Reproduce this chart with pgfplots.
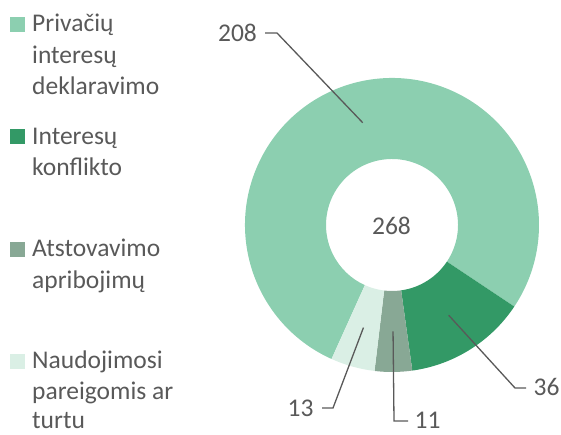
\documentclass[border=0pt]{standalone}
\usepackage{pgfplots}
\usepackage{pgfplotstable}
\pgfplotsset{compat=1.18}
\usepackage{fontspec}
\setmainfont{Carlito}
\definecolor{cA}{HTML}{8CCFB0}
\definecolor{cB}{HTML}{339966}
\definecolor{cC}{HTML}{88A895}
\definecolor{cD}{HTML}{DAEFE5}
\definecolor{txt}{HTML}{595959}

% value, colour, leader elbow (ex,ey), leader end (tx,ty), label position (lx,ly)
\pgfplotstableread{
value col ex ey tx ty lx ly
208 cA 277 -33 265 -33 237.5 -41.5
36 cB 515 -388 526 -388 546.5 -396
11 cC 394 -421 408 -421 427.5 -428.5
13 cD 333 -408 322 -408 300.5 -417
}\slices

\newcommand\legline[3]{\node[anchor=base west,inner sep=0pt,text=txt,font=\fontsize{25.5}{31}\selectfont] at (axis cs:#1,-#2) {#3};}
\newcommand\legkey[2]{\fill[#1] (axis cs:10,-#2) rectangle (axis cs:25,-#2+15);}

\begin{document}
\begin{tikzpicture}
\begin{axis}[x=1pt, y=1pt, xmin=0, xmax=561, ymin=-435, ymax=0,
  hide axis, clip=false, scale only axis]
\pgfplotsextra{%
  \path (axis cs:0,-435) rectangle (axis cs:561,0);
  % slices
  \def\angA{-114.3}%
  \pgfplotsforeachungrouped \i in {0,...,3}{%
    \pgfplotstablegetelem{\i}{value}\of\slices \let\val\pgfplotsretval
    \pgfplotstablegetelem{\i}{col}\of\slices \let\col\pgfplotsretval
    \pgfmathsetmacro\angB{\angA-\val/268*360}%
    \fill[\col] (axis cs:392,-225) ++(\angA:147pt) arc[start angle=\angA,end angle=\angB,radius=147pt]
      -- ++(\angB:-81pt) arc[start angle=\angB,end angle=\angA,radius=66pt] -- cycle;
    \global\let\angA\angB
  }%
  % leaders and labels
  \def\angA{-114.3}%
  \pgfplotsforeachungrouped \i in {0,...,3}{%
    \pgfplotstablegetelem{\i}{value}\of\slices \let\val\pgfplotsretval
    \pgfplotstablegetelem{\i}{ex}\of\slices \let\ex\pgfplotsretval
    \pgfplotstablegetelem{\i}{ey}\of\slices \let\ey\pgfplotsretval
    \pgfplotstablegetelem{\i}{tx}\of\slices \let\tx\pgfplotsretval
    \pgfplotstablegetelem{\i}{ty}\of\slices \let\ty\pgfplotsretval
    \pgfplotstablegetelem{\i}{lx}\of\slices \let\lx\pgfplotsretval
    \pgfplotstablegetelem{\i}{ly}\of\slices \let\ly\pgfplotsretval
    \pgfmathsetmacro\angB{\angA-\val/268*360}%
    \pgfmathsetmacro\angM{(\angA+\angB)/2}%
    \draw[txt, line width=1.3pt] (axis cs:392,-225) ++(\angM:106.5pt) -- (axis cs:\ex,\ey) -- (axis cs:\tx,\ty);
    \node[anchor=base, inner sep=0pt, text=txt, font=\fontsize{25.5}{31}\selectfont] at (axis cs:\lx,\ly) {\val};
    \global\let\angA\angB
  }%
  \node[anchor=base, inner sep=0pt, text=txt, font=\fontsize{25.5}{31}\selectfont] at (axis cs:391.5,-235) {268};
  % legend
  \legkey{cA}{32}
  \legline{32}{32}{Privačių}
  \legline{32}{63.3}{interesų}
  \legline{32}{94.6}{deklaravimo}
  \legkey{cB}{144.5}
  \legline{32}{144.5}{Interesų}
  \legline{32}{175.8}{konflikto}
  \legkey{cC}{257}
  \legline{32}{257}{Atstovavimo}
  \legline{32}{288.3}{apribojimų}
  \legkey{cD}{369}
  \legline{32}{369}{Naudojimosi}
  \legline{32}{399.5}{pareigomis ar}
  \legline{32}{429}{turtu}
}
\end{axis}
\end{tikzpicture}
\end{document}
